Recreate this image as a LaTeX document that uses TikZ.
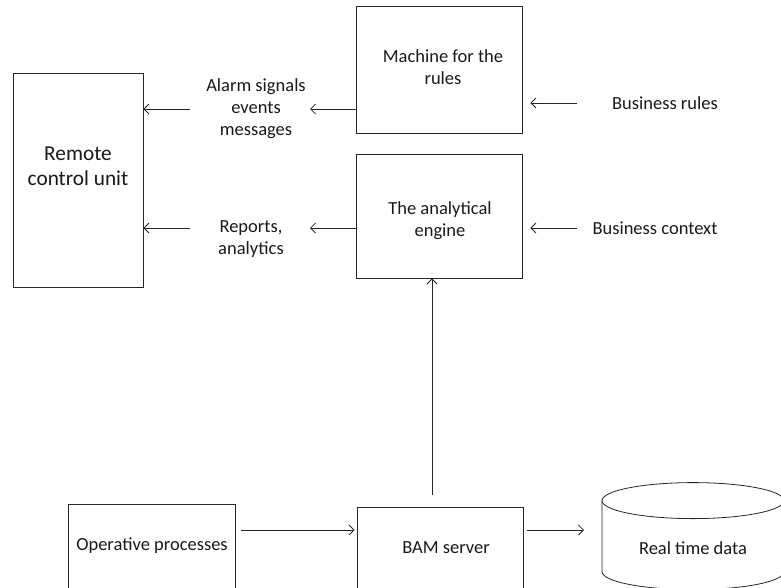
\documentclass[tikz,border=0pt]{standalone}
\usepackage{fontspec}
\setmainfont{Carlito}
\usetikzlibrary{arrows.meta,calc}
\begin{document}
\begin{tikzpicture}[x=1pt,y=-1pt,
  line width=0.8pt,
  box/.style={draw=black!85, rectangle, inner sep=0pt},
  lbl/.style={font=\fontsize{18.5}{22}\selectfont, align=center, inner sep=2pt, text=black!90},
  arr/.style={draw=black!85, -{Straight Barb[length=5pt,width=10pt]}}]
\useasboundingbox (0,0) rectangle (781,587);
\begin{scope}
\clip (0,0) rectangle (781,587);
% boxes
\node[box, minimum width=130, minimum height=214] (remote) at (78,180) {};
\node[lbl, font=\fontsize{21.3}{25}\selectfont] (remotetxt) at (78,166) {Remote\\control unit};
\node[box, minimum width=166, minimum height=127] (machine) at (439,69.5) {};
\node[lbl] (machinetxt) at (443,67) {Machine for the\\rules};
\node[box, minimum width=166, minimum height=124] (analytic) at (439,216) {};
\node[lbl] (analytictxt) at (440,221) {The analytical\\engine};
\node[box, minimum width=167, minimum height=90] (oper) at (151.5,549) {};
\node[lbl] (opertxt) at (152,546) {Operative processes};
\node[box, minimum width=166, minimum height=90] (bam) at (440,552) {};
\node[lbl] (bamtxt) at (446,548) {BAM server};
% database cylinder
\node[inner sep=0pt, minimum width=182, minimum height=110] (db) at (693,538) {};
\coordinate (dbc) at ($(db.north)+(0,18)$);
\draw[draw=black!85] (dbc) ellipse [x radius=91, y radius=18];
\draw[draw=black!85] ($(dbc)+(-91,0)$) -- ++(0,71) arc[start angle=180, end angle=0, x radius=91, y radius=18] -- ++(0,-71);
\node[lbl] (dbtxt) at (693,548) {Real time data};
% labels
\node[lbl] (alarm) at (256,109) {Alarm signals\\events\\messages};
\node[lbl] (reports) at (251,239) {Reports,\\analytics};
\node[lbl] (brules) at (665,103) {Business rules};
\node[lbl] (bctx) at (655,228) {Business context};
% connectors
\draw[arr] (machine.west |- alarm) -- (310,109) coordinate (alh);
\draw[arr] (190,109) coordinate (alt) -- (remote.east |- alt);
\coordinate (repin) at ($(analytic.west)+(0,12)$);
\draw[arr] (repin) -- (310,228) coordinate (repout);
\draw[arr] (190,228) coordinate (repl) -- (remote.east |- repl);
\draw[arr] (577,103) coordinate (brt) -- ($(machine.east |- brt)+(8,0)$);
\draw[arr] (577,228) coordinate (bct) -- ($(analytic.east |- bct)+(8,0)$);
\coordinate (bamup) at (432,495);
\draw[arr] (bamup) -- (bamup |- analytic.south);
\draw[arr, shorten <=6pt, shorten >=2pt] (oper.east |- 0,530) coordinate (o1) -- (bam.west |- o1);
\draw[arr, shorten <=4pt] (bam.east |- 0,530) coordinate (b1) -- (584,530);
\end{scope}
\end{tikzpicture}
\end{document}
